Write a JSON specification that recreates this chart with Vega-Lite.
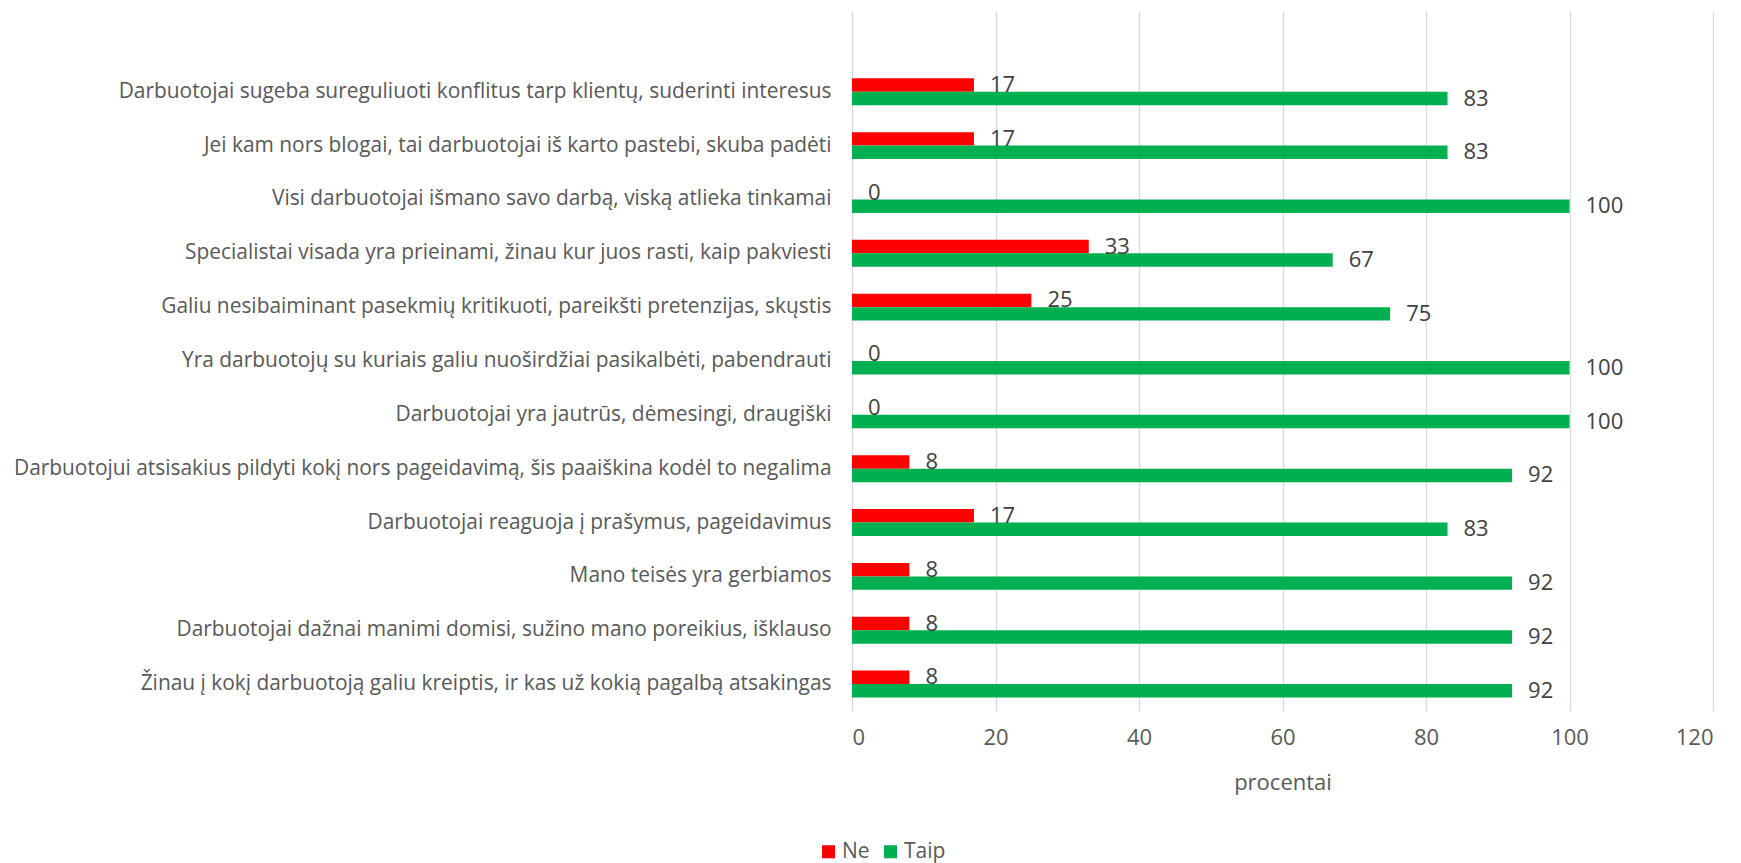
{
  "$schema": "https://vega.github.io/schema/vega-lite/v6.json",
  "autosize": {"type": "none"},
  "padding": {"left": 852, "top": 11, "right": 28, "bottom": 152},
  "width": 861,
  "height": 700,
  "background": "white",
  "config": {
    "font": "Open Sans",
    "view": {"stroke": null},
    "axis": {"labelColor": "#595959", "titleColor": "#595959", "labelFont": "Open Sans", "titleFont": "Open Sans"},
    "legend": {"labelFont": "Open Sans"}
  },
  "data": {
    "values": [
      {"item": "Darbuotojai sugeba sureguliuoti konflitus tarp klientų, suderinti interesus", "answer": "Ne", "value": 17},
      {"item": "Darbuotojai sugeba sureguliuoti konflitus tarp klientų, suderinti interesus", "answer": "Taip", "value": 83},
      {"item": "Jei kam nors blogai, tai darbuotojai iš karto pastebi, skuba padėti", "answer": "Ne", "value": 17},
      {"item": "Jei kam nors blogai, tai darbuotojai iš karto pastebi, skuba padėti", "answer": "Taip", "value": 83},
      {"item": "Visi darbuotojai išmano savo darbą, viską atlieka tinkamai", "answer": "Ne", "value": 0},
      {"item": "Visi darbuotojai išmano savo darbą, viską atlieka tinkamai", "answer": "Taip", "value": 100},
      {"item": "Specialistai visada yra prieinami, žinau kur juos rasti, kaip pakviesti", "answer": "Ne", "value": 33},
      {"item": "Specialistai visada yra prieinami, žinau kur juos rasti, kaip pakviesti", "answer": "Taip", "value": 67},
      {"item": "Galiu nesibaiminant pasekmių kritikuoti, pareikšti pretenzijas, skųstis", "answer": "Ne", "value": 25},
      {"item": "Galiu nesibaiminant pasekmių kritikuoti, pareikšti pretenzijas, skųstis", "answer": "Taip", "value": 75},
      {"item": "Yra darbuotojų su kuriais galiu nuoširdžiai pasikalbėti, pabendrauti", "answer": "Ne", "value": 0},
      {"item": "Yra darbuotojų su kuriais galiu nuoširdžiai pasikalbėti, pabendrauti", "answer": "Taip", "value": 100},
      {"item": "Darbuotojai yra jautrūs, dėmesingi, draugiški", "answer": "Ne", "value": 0},
      {"item": "Darbuotojai yra jautrūs, dėmesingi, draugiški", "answer": "Taip", "value": 100},
      {"item": "Darbuotojui atsisakius pildyti kokį nors pageidavimą, šis paaiškina kodėl to negalima", "answer": "Ne", "value": 8},
      {"item": "Darbuotojui atsisakius pildyti kokį nors pageidavimą, šis paaiškina kodėl to negalima", "answer": "Taip", "value": 92},
      {"item": "Darbuotojai reaguoja į prašymus, pageidavimus", "answer": "Ne", "value": 17},
      {"item": "Darbuotojai reaguoja į prašymus, pageidavimus", "answer": "Taip", "value": 83},
      {"item": "Mano teisės yra gerbiamos", "answer": "Ne", "value": 8},
      {"item": "Mano teisės yra gerbiamos", "answer": "Taip", "value": 92},
      {"item": "Darbuotojai dažnai manimi domisi, sužino mano poreikius, išklauso", "answer": "Ne", "value": 8},
      {"item": "Darbuotojai dažnai manimi domisi, sužino mano poreikius, išklauso", "answer": "Taip", "value": 92},
      {"item": "Žinau į kokį darbuotoją galiu kreiptis, ir kas už kokią pagalbą atsakingas", "answer": "Ne", "value": 8},
      {"item": "Žinau į kokį darbuotoją galiu kreiptis, ir kas už kokią pagalbą atsakingas", "answer": "Taip", "value": 92}
    ]
  },
  "encoding": {
    "y": {
      "field": "item",
      "type": "nominal",
      "title": null,
      "scale": {
        "domain": [
          " ",
          "Darbuotojai sugeba sureguliuoti konflitus tarp klientų, suderinti interesus",
          "Jei kam nors blogai, tai darbuotojai iš karto pastebi, skuba padėti",
          "Visi darbuotojai išmano savo darbą, viską atlieka tinkamai",
          "Specialistai visada yra prieinami, žinau kur juos rasti, kaip pakviesti",
          "Galiu nesibaiminant pasekmių kritikuoti, pareikšti pretenzijas, skųstis",
          "Yra darbuotojų su kuriais galiu nuoširdžiai pasikalbėti, pabendrauti",
          "Darbuotojai yra jautrūs, dėmesingi, draugiški",
          "Darbuotojui atsisakius pildyti kokį nors pageidavimą, šis paaiškina kodėl to negalima",
          "Darbuotojai reaguoja į prašymus, pageidavimus",
          "Mano teisės yra gerbiamos",
          "Darbuotojai dažnai manimi domisi, sužino mano poreikius, išklauso",
          "Žinau į kokį darbuotoją galiu kreiptis, ir kas už kokią pagalbą atsakingas"
        ],
        "paddingInner": 0.5,
        "paddingOuter": 0.25
      },
      "axis": {
        "ticks": false,
        "domain": false,
        "labelFontSize": 20.9,
        "labelPadding": 21,
        "labelLimit": 900
      }
    },
    "yOffset": {"field": "answer", "type": "nominal", "sort": ["Ne", "Taip"]},
    "x": {
      "field": "value",
      "type": "quantitative",
      "title": "procentai",
      "scale": {"domain": [0, 120], "nice": false},
      "axis": {
        "values": [0, 20, 40, 60, 80, 100, 120],
        "grid": true,
        "gridColor": "#d9d9d9",
        "gridWidth": 1.3,
        "domain": false,
        "ticks": false,
        "labelFontSize": 22,
        "labelPadding": 16,
        "titleFontSize": 22,
        "titleFontWeight": "normal",
        "titlePadding": 24
      }
    }
  },
  "layer": [
    {
      "mark": {"type": "bar"},
      "encoding": {
        "color": {
          "field": "answer",
          "type": "nominal",
          "scale": {"domain": ["Ne", "Taip"], "range": ["#ff0000", "#00b050"]},
          "legend": {
            "title": null,
            "orient": "none",
            "direction": "horizontal",
            "legendX": -34,
            "legendY": 830,
            "symbolType": "square",
            "symbolSize": 170,
            "symbolStrokeWidth": 0,
            "symbolOpacity": 1,
            "labelFontSize": 21,
            "labelColor": "#595959",
            "labelOffset": 3,
            "columnPadding": 10
          }
        }
      }
    },
    {
      "mark": {"type": "text", "align": "left", "baseline": "middle", "dx": 16, "fontSize": 22, "color": "#404040"},
      "encoding": {"text": {"field": "value", "type": "quantitative"}}
    }
  ]
}
